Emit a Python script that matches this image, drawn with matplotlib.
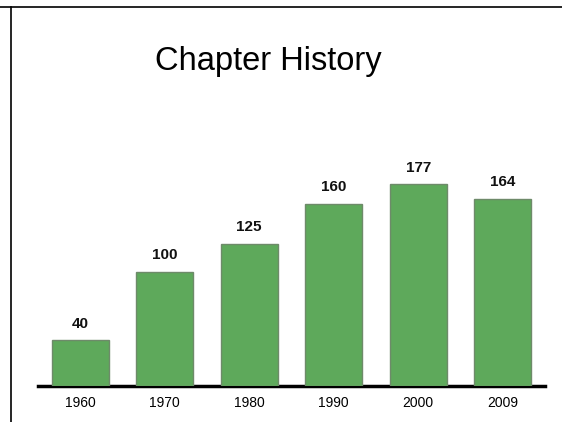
"""Chapter History bar chart."""
import matplotlib
matplotlib.use("Agg")
import matplotlib.pyplot as plt
from matplotlib.lines import Line2D

years = ["1960", "1970", "1980", "1990", "2000", "2009"]
chapters = [40, 100, 125, 160, 177, 164]

BAR_COLOR = "#5ea95b"
EDGE_COLOR = "#6e8a6a"

plt.rcParams["font.family"] = ["Liberation Sans", "DejaVu Sans"]

fig = plt.figure(figsize=(5.62, 4.22), dpi=100)
ax = fig.add_axes([0.0676, 0.0853, 0.902, 0.540])

positions = list(range(len(years)))
bars = ax.bar(positions, chapters, width=0.675, color=BAR_COLOR,
              edgecolor=EDGE_COLOR, linewidth=1.0, zorder=2)

for rect, value in zip(bars, chapters):
    ax.annotate(str(value), (rect.get_x() + rect.get_width() / 2, value),
                xytext=(0, 7), textcoords="offset points",
                ha="center", va="bottom", fontsize=11, fontweight="bold",
                color="#111111")

ax.set_xlim(-0.5, 5.5)
ax.set_ylim(0, 200)
ax.set_xticks(positions)
ax.set_xticklabels(years, fontsize=10)
ax.tick_params(axis="x", length=0, pad=7)
ax.set_yticks([])

for side in ("top", "right", "left"):
    ax.spines[side].set_visible(False)
ax.spines["bottom"].set_linewidth(2.5)
ax.spines["bottom"].set_zorder(1)

fig.text(0.477, 0.855, "Chapter History", ha="center", va="center", fontsize=23.5)

# frame lines of the scanned slide
fig.add_artist(Line2D([0, 1], [1 - 7 / 422, 1 - 7 / 422], color="black", lw=1.2))
fig.add_artist(Line2D([11 / 562, 11 / 562], [0, 1 - 7 / 422], color="black", lw=1.2))

fig.savefig("out.png", dpi=100)
